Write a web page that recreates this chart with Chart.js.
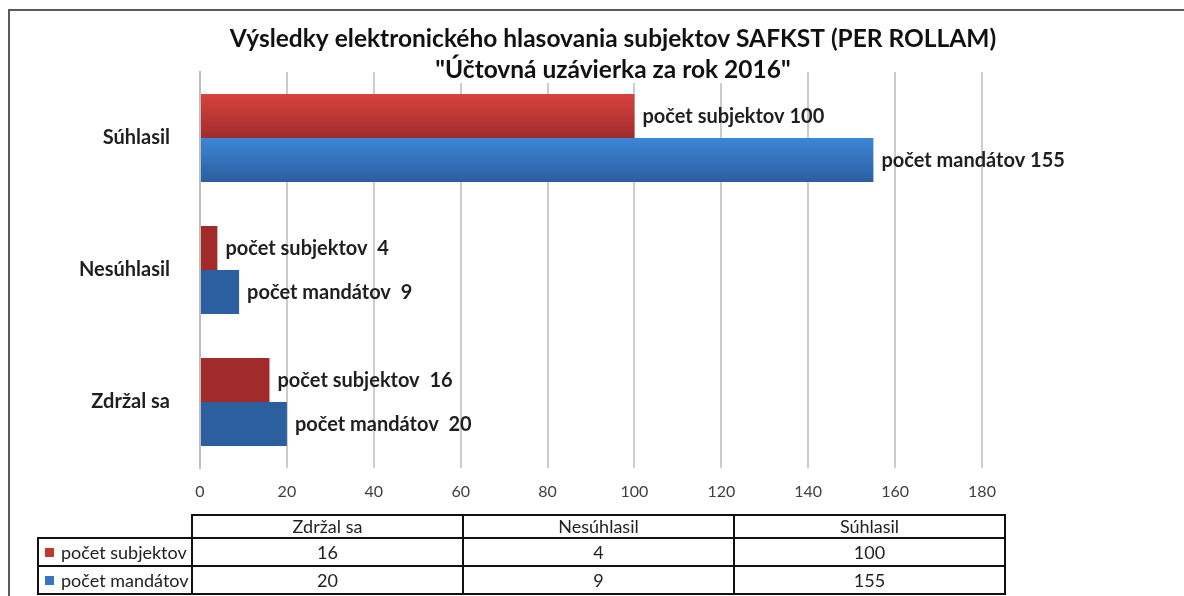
<!DOCTYPE html>
<html>
<head>
<meta charset="utf-8">
<script src="https://cdn.jsdelivr.net/npm/chart.js@4"></script>
<style>
  html, body { margin: 0; padding: 0; background: #fff; }
  #wrap { width: 1184px; height: 596px; }
</style>
</head>
<body>
<div id="wrap"><canvas id="chart" width="1184" height="596"></canvas></div>
<script>
const categories = ['Zdržal sa', 'Nesúhlasil', 'Súhlasil'];
const seriesNames = ['počet subjektov', 'počet mandátov'];
const subjekty = [16, 4, 100];
const mandaty = [20, 9, 155];
const xMax = 180;
const xStep = 20;
const titleLines = [
    'Výsledky elektronického hlasovania subjektov SAFKST (PER ROLLAM)',
    '"Účtovná uzávierka za rok 2016"'
];

// colours: [top, bottom] of the bar gradient, and the flat legend colour
const redBar = ['#d8423e', '#a02b2a', '#c0392b'];
const blueBar = ['#3c86d6', '#2b5f9f', '#3a72c4'];

const FONT = 'Lato, "Open Sans", sans-serif';

// fill each bar with a vertical gradient like the original Excel chart
const barGradient = {
    id: 'barGradient',
    beforeDatasetsDraw(chart) {
        const ctx = chart.ctx;
        chart.data.datasets.forEach((ds, i) => {
            const cols = i === 0 ? redBar : blueBar;
            chart.getDatasetMeta(i).data.forEach(bar => {
                const top = bar.y - bar.height / 2;
                const g = ctx.createLinearGradient(0, top, 0, top + bar.height);
                g.addColorStop(0, cols[0]);
                g.addColorStop(1, cols[1]);
                bar.options.backgroundColor = g;
            });
        });
    }
};

// "počet subjektov 100" labels to the right of every bar
const barLabels = {
    id: 'barLabels',
    afterDatasetsDraw(chart) {
        const ctx = chart.ctx;
        ctx.save();
        ctx.font = 'bold 20px ' + FONT;
        ctx.fillStyle = '#1f1f1f';
        ctx.textBaseline = 'middle';
        ctx.textAlign = 'left';
        chart.data.datasets.forEach((ds, i) => {
            chart.getDatasetMeta(i).data.forEach((bar, j) => {
                const v = ds.data[j];
                const gap = v < 100 ? '  ' : ' ';
                ctx.fillText(ds.label + gap + v, bar.x + 8, bar.y + 1);
            });
        });
        ctx.restore();
    }
};

// title, frame and the data table under the axis
const extras = {
    id: 'extras',
    afterDraw(chart) {
        const ctx = chart.ctx;
        ctx.save();

        // frame
        ctx.strokeStyle = '#5a5a5a';
        ctx.lineWidth = 2;
        ctx.beginPath();
        ctx.moveTo(9, 700);
        ctx.lineTo(9, 10);
        ctx.lineTo(1190, 10);
        ctx.stroke();

        // title
        ctx.font = 'bold 24.5px ' + FONT;
        ctx.textAlign = 'center';
        ctx.textBaseline = 'middle';
        const cx = 613;
        const w2 = ctx.measureText(titleLines[1]).width;
        ctx.fillStyle = '#fff';
        ctx.fillRect(cx - w2 / 2 - 4, 57, w2 + 8, 26);
        ctx.fillStyle = '#111';
        ctx.fillText(titleLines[0], cx, 39);
        ctx.fillText(titleLines[1], cx, 70);

        // data table
        const tLeft = 192, colW = 271, legLeft = 38;
        const headTop = 515, headH = 23, rowH = 28;
        ctx.strokeStyle = '#111';
        ctx.lineWidth = 2;
        ctx.font = '18px ' + FONT;
        ctx.fillStyle = '#222';
        categories.forEach((c, k) => {
            const x = tLeft + k * colW;
            ctx.strokeRect(x, headTop, colW, headH);
            ctx.fillText(c, x + colW / 2, headTop + headH / 2 + 1);
        });
        const rows = [subjekty, mandaty];
        rows.forEach((vals, r) => {
            const y = headTop + headH + r * rowH;
            ctx.strokeRect(legLeft, y, tLeft - legLeft, rowH);
            ctx.fillStyle = r === 0 ? redBar[2] : blueBar[2];
            ctx.fillRect(legLeft + 7, y + rowH / 2 - 4, 9, 9);
            ctx.fillStyle = '#222';
            ctx.textAlign = 'left';
            ctx.fillText(seriesNames[r], legLeft + 23, y + rowH / 2 + 1);
            ctx.textAlign = 'center';
            vals.forEach((v, k) => {
                const x = tLeft + k * colW;
                ctx.strokeRect(x, y, colW, rowH);
                ctx.fillText(String(v), x + colW / 2, y + rowH / 2 + 1);
            });
        });
        ctx.restore();
    }
};

new Chart(document.getElementById('chart'), {
    type: 'bar',
    data: {
        labels: categories,
        datasets: [
            { label: seriesNames[0], data: subjekty, backgroundColor: redBar[2] },
            { label: seriesNames[1], data: mandaty, backgroundColor: blueBar[2] }
        ]
    },
    options: {
        indexAxis: 'y',
        responsive: false,
        animation: false,
        events: [],
        layout: { padding: { left: 0, right: 202, top: 72, bottom: 0 } },
        datasets: { bar: { categoryPercentage: 0.667, barPercentage: 1 } },
        plugins: {
            legend: { display: false },
            title: { display: false },
            tooltip: { enabled: false }
        },
        scales: {
            x: {
                min: 0,
                max: xMax,
                ticks: { stepSize: xStep, color: '#404040', font: { family: FONT, size: 16 }, padding: 14 },
                grid: { color: '#cccccc', lineWidth: 2, drawTicks: false },
                border: { display: false },
                afterFit(scale) { scale.height = 128; }
            },
            y: {
                reverse: true,
                ticks: { color: '#1f1f1f', font: { family: FONT, size: 20, weight: 'bold' }, padding: 30 },
                grid: { display: false, drawTicks: false },
                border: { display: true, color: '#bdbdbd', width: 2 },
                afterFit(scale) { scale.width = 200; }
            }
        }
    },
    plugins: [barGradient, barLabels, extras]
});
</script>
</body>
</html>
